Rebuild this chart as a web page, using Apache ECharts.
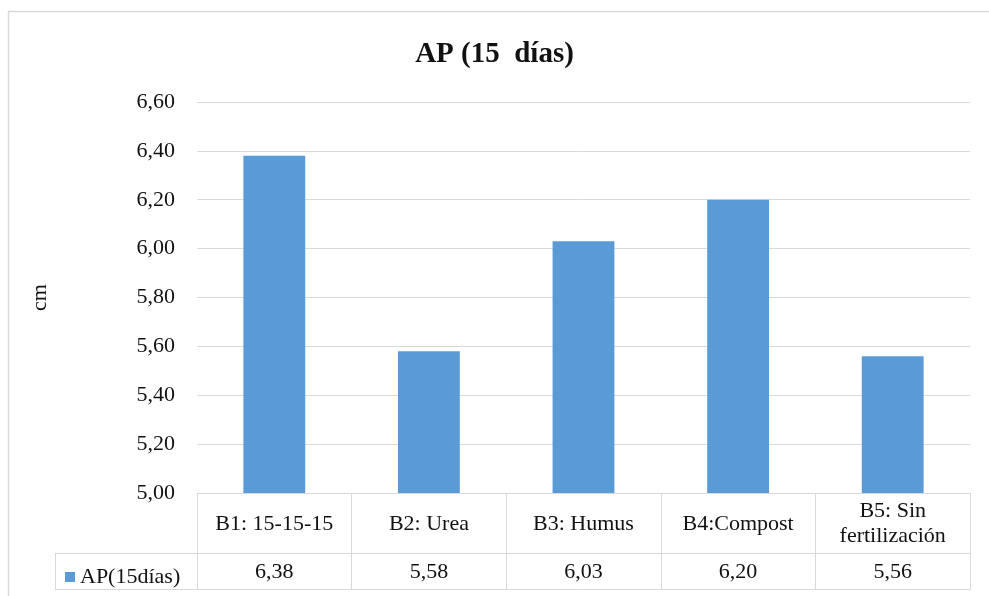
<!DOCTYPE html>
<html>
<head>
<meta charset="utf-8">
<script src="https://cdn.jsdelivr.net/npm/echarts@6/dist/echarts.min.js"></script>
<style>
  html, body { margin: 0; padding: 0; background: #fff; }
  #chart { width: 989px; height: 596px; }
</style>
</head>
<body>
<div id="chart"></div>
<script>
// Treatments and plant height after 15 days (cm)
const categories = ['B1: 15-15-15', 'B2: Urea', 'B3: Humus', 'B4:Compost', 'B5: Sin\nfertilización'];
const heights = [6.38, 5.58, 6.03, 6.20, 5.56];
const seriesName = 'AP(15días)';
const yTicks = { min: 5.0, max: 6.6, step: 0.2 };

const FONT = '"Liberation Serif", "Times New Roman", serif';
const GRID = '#d9d9d9';
const TEXT = '#111';
const BAR = '#5b9bd5';
const FS = 22;

const fmt = v => v.toFixed(2).replace('.', ',');

const chart = echarts.init(document.getElementById('chart'), null, { renderer: 'canvas' });

const grid = { left: 197, right: 19, top: 102, bottom: 103 };
const headerH = 60, rowH = 36;

chart.setOption({
  animation: false,
  backgroundColor: '#fff',
  title: {
    text: 'AP (15  días)',
    left: 'center',
    top: 35,
    textStyle: { fontFamily: FONT, fontSize: 29, fontWeight: 'bold', color: TEXT }
  },
  legend: {
    data: [seriesName],
    left: 60,
    top: 561,
    icon: 'rect',
    itemWidth: 10,
    itemHeight: 10,
    itemGap: 5,
    textStyle: { fontFamily: FONT, fontSize: FS, color: TEXT }
  },
  grid: grid,
  xAxis: [
    {
      type: 'category',
      data: categories,
      position: 'bottom',
      axisLine: { show: true, lineStyle: { color: GRID, width: 1 } },
      axisTick: { show: true, length: headerH, lineStyle: { color: GRID, width: 1 } },
      axisLabel: {
        interval: 0,
        margin: headerH / 2 + 1,
        verticalAlign: 'middle',
        fontFamily: FONT, fontSize: FS, color: TEXT, lineHeight: 25
      }
    },
    {
      type: 'category',
      data: categories,
      position: 'bottom',
      offset: headerH,
      axisLine: { show: true, lineStyle: { color: GRID, width: 1 } },
      axisTick: { show: true, length: rowH, lineStyle: { color: GRID, width: 1 } },
      axisLabel: {
        interval: 0,
        margin: rowH / 2 + 1,
        verticalAlign: 'middle',
        fontFamily: FONT, fontSize: FS, color: TEXT,
        formatter: (v, i) => fmt(heights[i])
      }
    },
    {
      type: 'category',
      data: categories,
      position: 'bottom',
      offset: headerH + rowH,
      axisLine: { show: true, lineStyle: { color: GRID, width: 1 } },
      axisTick: { show: false },
      axisLabel: { show: false }
    }
  ],
  yAxis: {
    type: 'value',
    min: yTicks.min,
    max: yTicks.max,
    interval: yTicks.step,
    name: 'cm',
    nameLocation: 'middle',
    nameGap: 146,
    nameRotate: 90,
    nameTextStyle: { fontFamily: FONT, fontSize: FS, color: TEXT },
    axisLine: { show: false },
    axisTick: { show: false },
    splitLine: { lineStyle: { color: GRID, width: 1 } },
    axisLabel: {
      margin: 22,
      padding: [3, 0, 0, 0],
      fontFamily: FONT, fontSize: FS, color: TEXT,
      formatter: v => fmt(v)
    }
  },
  series: [{
    name: seriesName,
    type: 'bar',
    xAxisIndex: 0,
    data: heights,
    barWidth: '40%',
    itemStyle: { color: BAR }
  }]
});

// Outer frame and the legend cell of the data table
function drawFrame() {
  const gx = grid.left;
  const yBase = 596 - grid.bottom;
  const yRow = yBase + headerH;
  const yEnd = yRow + rowH;
  const cellLeft = 55;
  const ls = { stroke: GRID, lineWidth: 1 };
  chart.setOption({
    graphic: [
      { type: 'rect', shape: { x: 8.5, y: 11.5, width: 1100, height: 700 }, style: { fill: 'none', stroke: GRID, lineWidth: 1.5 }, silent: true, z: 0 },
      { type: 'line', shape: { x1: cellLeft + 0.5, y1: yRow, x2: cellLeft + 0.5, y2: yEnd }, style: ls, silent: true },
      { type: 'line', shape: { x1: cellLeft, y1: yRow + 0.5, x2: gx, y2: yRow + 0.5 }, style: ls, silent: true },
      { type: 'line', shape: { x1: cellLeft, y1: yEnd + 0.5, x2: gx, y2: yEnd + 0.5 }, style: ls, silent: true }
    ]
  });
}
drawFrame();
</script>
</body>
</html>
